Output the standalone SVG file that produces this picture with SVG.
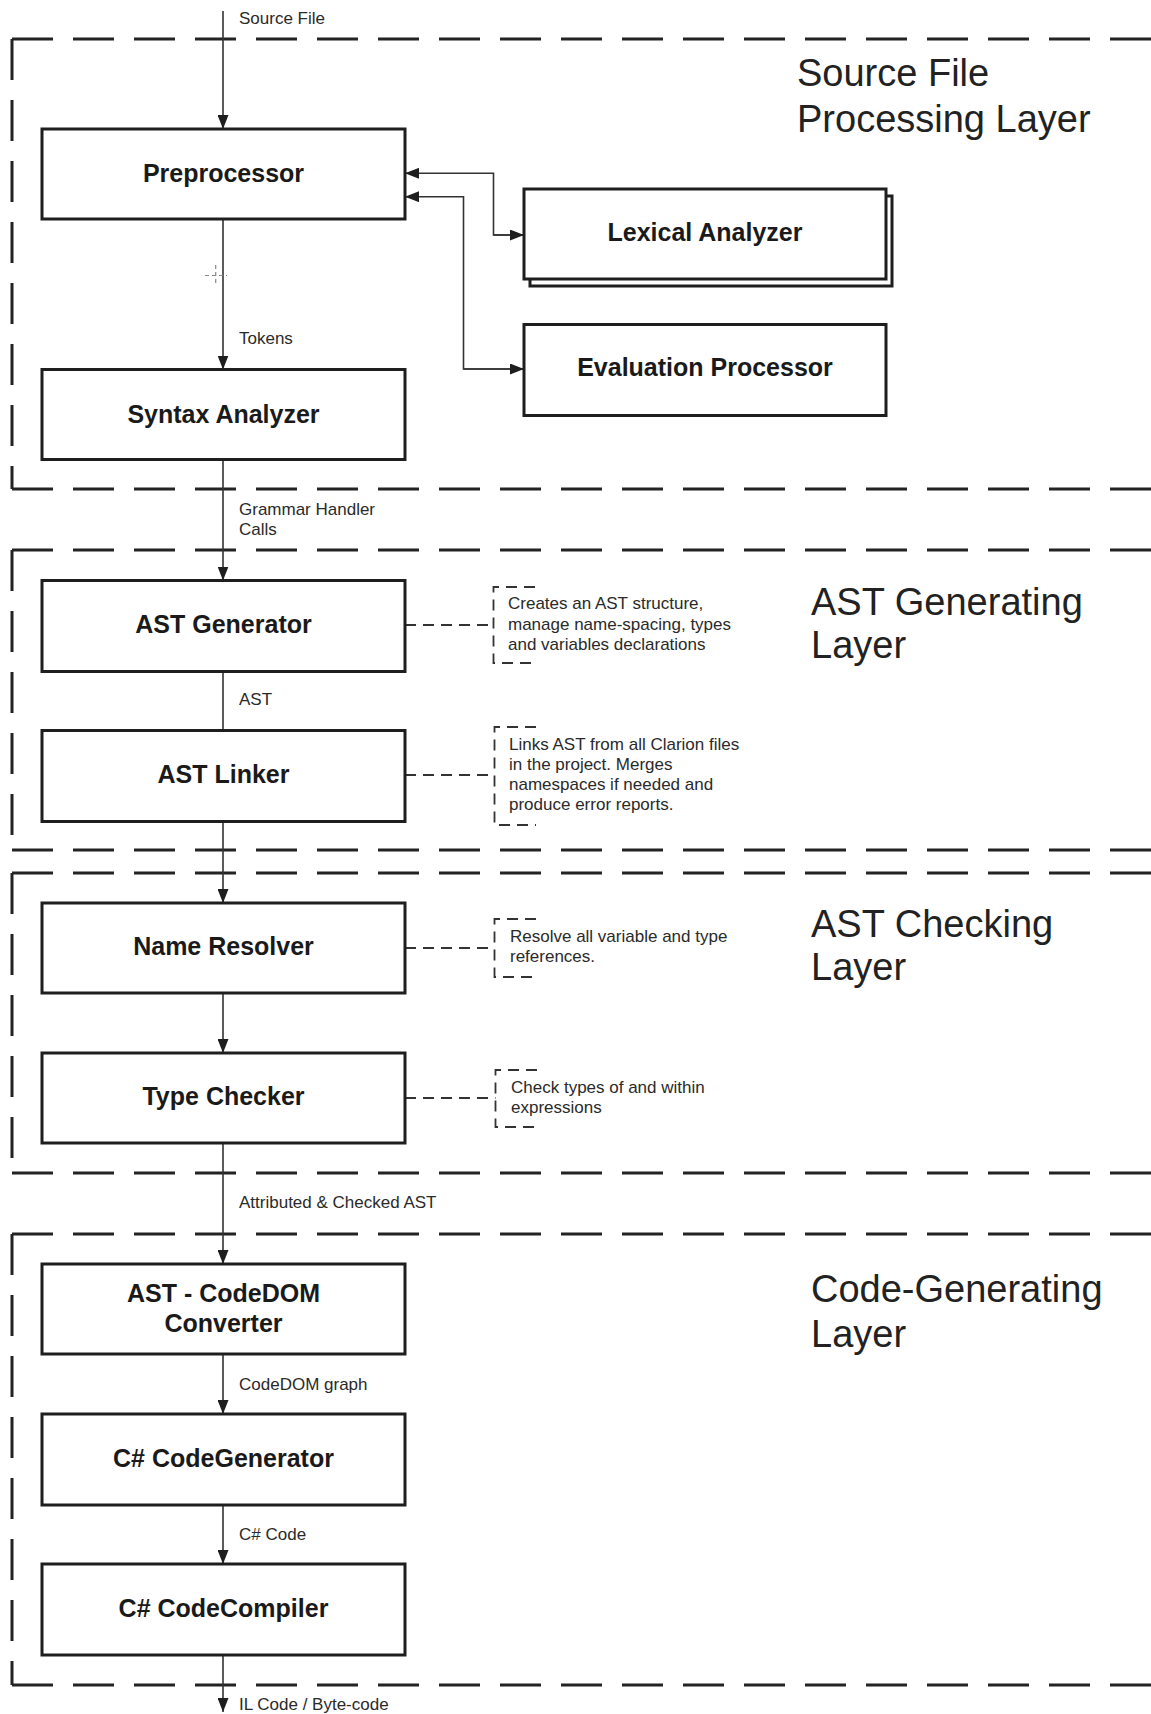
<svg xmlns="http://www.w3.org/2000/svg" width="1151" height="1714" viewBox="0 0 1151 1714">
<style>
  .bg { fill: #ffffff; }
  .box { fill: #ffffff; stroke: #1e1e1e; stroke-width: 3; }
  .layer { fill: none; stroke: #232323; stroke-width: 3; stroke-dasharray: 41 20; }
  .conn { fill: none; stroke: #333333; stroke-width: 1.6; }
  .note { fill: none; stroke: #333333; stroke-width: 1.8; stroke-dasharray: 11 7; }
  .cross { fill: none; stroke: #888888; stroke-width: 1.2; stroke-dasharray: 4 3; }
  .bt { font-family: "Liberation Sans", Arial, sans-serif; font-weight: bold; font-size: 25px; fill: #1a1a1a; text-anchor: middle; }
  .lbl { font-family: "Liberation Sans", Arial, sans-serif; font-size: 17px; fill: #2a2a2a; }
  .nt { font-family: "Liberation Sans", Arial, sans-serif; font-size: 17px; fill: #2a2a2a; }
  .title { font-family: "Liberation Sans", Arial, sans-serif; font-size: 38px; fill: #222222; }
</style>
<defs>
  <marker id="arr" markerUnits="userSpaceOnUse" markerWidth="14" markerHeight="11" refX="14" refY="5.5" orient="auto">
    <path d="M0,0 L14,5.5 L0,11 z" fill="#1e1e1e"/>
  </marker>
</defs>
<rect class="bg" x="0" y="0" width="1151" height="1714"/>

<g id="layers">
  <g id="layer-source">
    <path class="layer" d="M12,39 H1151 M12,39 V489 M12,489 H1151"/>
    <text class="title" x="797" y="86">Source File</text>
    <text class="title" x="797" y="132">Processing Layer</text>
  </g>
  <g id="layer-astgen">
    <path class="layer" d="M12,550 H1151 M12,550 V850 M12,850 H1151"/>
    <text class="title" x="811" y="615">AST Generating</text>
    <text class="title" x="811" y="658">Layer</text>
  </g>
  <g id="layer-astcheck">
    <path class="layer" d="M12,873 H1151 M12,873 V1173 M12,1173 H1151"/>
    <text class="title" x="811" y="937">AST Checking</text>
    <text class="title" x="811" y="980">Layer</text>
  </g>
  <g id="layer-codegen">
    <path class="layer" d="M12,1234 H1151 M12,1234 V1685 M12,1685 H1151"/>
    <text class="title" x="811" y="1302">Code-Generating</text>
    <text class="title" x="811" y="1347">Layer</text>
  </g>
</g>

<g id="connectors">
  <path class="conn" d="M223,11 V129" marker-end="url(#arr)"/>
  <path class="conn" d="M223,219 V369.5" marker-end="url(#arr)"/>
  <path class="conn" d="M524,235 H493.5 V173.3 H405" marker-end="url(#arr)"/>
  <path class="conn" d="M493.5,235 H524" marker-end="url(#arr)"/>
  <path class="conn" d="M524,369 H463.5 V196.7 H405" marker-end="url(#arr)"/>
  <path class="conn" d="M463.5,369 H524" marker-end="url(#arr)"/>
  <path class="conn" d="M223,459.5 V580.5" marker-end="url(#arr)"/>
  <path class="conn" d="M223,671.5 V730.5"/>
  <path class="conn" d="M223,821.5 V903" marker-end="url(#arr)"/>
  <path class="conn" d="M223,993 V1053" marker-end="url(#arr)"/>
  <path class="conn" d="M223,1143 V1264" marker-end="url(#arr)"/>
  <path class="conn" d="M223,1354 V1414" marker-end="url(#arr)"/>
  <path class="conn" d="M223,1505 V1564" marker-end="url(#arr)"/>
  <path class="conn" d="M223,1655 V1712" marker-end="url(#arr)"/>
  <path class="note" d="M405,625 H493.5"/>
  <path class="note" d="M405,775 H494.5"/>
  <path class="note" d="M405,948 H494.5"/>
  <path class="note" d="M405,1098 H495.5"/>
  <path class="cross" d="M205,275.5 H227 M215.7,265 V286"/>
  <text class="lbl" x="239" y="24">Source File</text>
  <text class="lbl" x="239" y="343.5">Tokens</text>
  <text class="lbl" x="239" y="515">Grammar Handler</text>
  <text class="lbl" x="239" y="535">Calls</text>
  <text class="lbl" x="239" y="705">AST</text>
  <text class="lbl" x="239" y="1208">Attributed &amp; Checked AST</text>
  <text class="lbl" x="239" y="1390">CodeDOM graph</text>
  <text class="lbl" x="239" y="1540">C# Code</text>
  <text class="lbl" x="239" y="1710">IL Code / Byte-code</text>
</g>

<g id="preprocessor">
  <rect class="box" x="42" y="129" width="363" height="90"/>
  <text class="bt" x="223.5" y="182">Preprocessor</text>
</g>
<g id="lexical-analyzer">
  <rect class="box" x="530" y="196" width="362" height="90"/>
  <rect class="box" x="524" y="189" width="362" height="90"/>
  <text class="bt" x="705" y="241">Lexical Analyzer</text>
</g>
<g id="evaluation-processor">
  <rect class="box" x="524" y="324.5" width="362" height="91"/>
  <text class="bt" x="705" y="376">Evaluation Processor</text>
</g>
<g id="syntax-analyzer">
  <rect class="box" x="42" y="369.5" width="363" height="90"/>
  <text class="bt" x="223.5" y="423">Syntax Analyzer</text>
</g>
<g id="ast-generator">
  <rect class="box" x="42" y="580.5" width="363" height="91"/>
  <text class="bt" x="223.5" y="633">AST Generator</text>
</g>
<g id="note-ast-generator">
  <path class="note" d="M535,587 H493.5 V663 H535"/>
  <text class="nt" x="508" y="609">Creates an AST structure,</text>
  <text class="nt" x="508" y="630">manage name-spacing, types</text>
  <text class="nt" x="508" y="650">and variables declarations</text>
</g>
<g id="ast-linker">
  <rect class="box" x="42" y="730.5" width="363" height="91"/>
  <text class="bt" x="223.5" y="783">AST Linker</text>
</g>
<g id="note-ast-linker">
  <path class="note" d="M536,727 H494.5 V825 H536"/>
  <text class="nt" x="509" y="750">Links AST from all Clarion files</text>
  <text class="nt" x="509" y="770">in the project. Merges</text>
  <text class="nt" x="509" y="790">namespaces if needed and</text>
  <text class="nt" x="509" y="810">produce error reports.</text>
</g>
<g id="name-resolver">
  <rect class="box" x="42" y="903" width="363" height="90"/>
  <text class="bt" x="223.5" y="955">Name Resolver</text>
</g>
<g id="note-name-resolver">
  <path class="note" d="M536,919 H494.5 V977 H536"/>
  <text class="nt" x="510" y="942">Resolve all variable and type</text>
  <text class="nt" x="510" y="962">references.</text>
</g>
<g id="type-checker">
  <rect class="box" x="42" y="1053" width="363" height="90"/>
  <text class="bt" x="223.5" y="1105">Type Checker</text>
</g>
<g id="note-type-checker">
  <path class="note" d="M537,1070 H495.5 V1127 H537"/>
  <text class="nt" x="511" y="1093">Check types of and within</text>
  <text class="nt" x="511" y="1113">expressions</text>
</g>
<g id="ast-codedom-converter">
  <rect class="box" x="42" y="1264" width="363" height="90"/>
  <text class="bt" x="223.5" y="1302">AST - CodeDOM</text>
  <text class="bt" x="223.5" y="1332">Converter</text>
</g>
<g id="cs-codegenerator">
  <rect class="box" x="42" y="1414" width="363" height="91"/>
  <text class="bt" x="223.5" y="1467">C# CodeGenerator</text>
</g>
<g id="cs-codecompiler">
  <rect class="box" x="42" y="1564" width="363" height="91"/>
  <text class="bt" x="223.5" y="1617">C# CodeCompiler</text>
</g>
</svg>
